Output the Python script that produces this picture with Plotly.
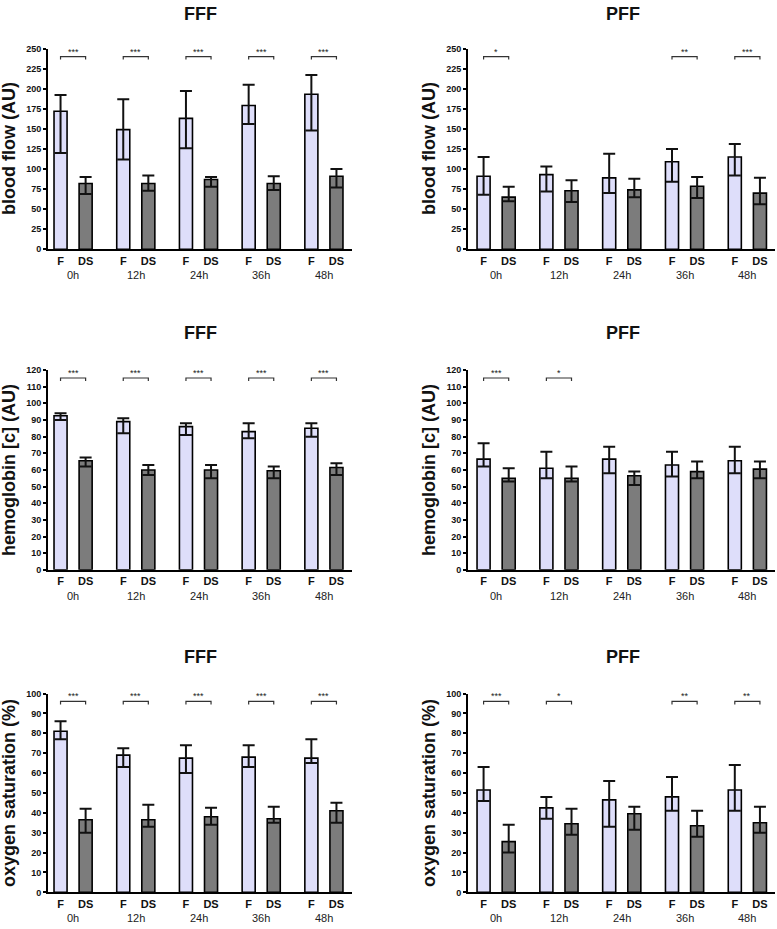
import plotly.graph_objects as go

W, H = 777, 929

times = ["0h", "12h", "24h", "36h", "48h"]
groups = ["F", "DS"]

# ---- blood flow ----
bf_fff_F = [172, 149, 163, 179, 193]
bf_fff_F_hi = [192, 187, 197, 205, 217]
bf_fff_F_lo = [120, 112, 126, 156, 148]
bf_fff_DS = [82, 82, 87, 82, 91]
bf_fff_DS_hi = [90, 92, 90, 91, 100]
bf_fff_DS_lo = [69, 73, 78, 74, 77]
bf_fff_sig = ["***", "***", "***", "***", "***"]

bf_pff_F = [91, 93, 89, 109, 115]
bf_pff_F_hi = [115, 103, 119, 125, 131]
bf_pff_F_lo = [68, 72, 70, 84, 92]
bf_pff_DS = [65, 73, 74, 78.5, 70]
bf_pff_DS_hi = [78, 86, 88, 90, 89]
bf_pff_DS_lo = [60, 59, 65, 64, 56]
bf_pff_sig = ["*", "", "", "**", "***"]

# ---- hemoglobin ----
hb_fff_F = [92.5, 89, 86, 83, 85]
hb_fff_F_hi = [94, 91, 88, 88, 88]
hb_fff_F_lo = [90, 82, 81, 79, 80]
hb_fff_DS = [65.5, 60, 60, 59.5, 61.5]
hb_fff_DS_hi = [67.5, 63, 63, 62, 64]
hb_fff_DS_lo = [62, 57, 55, 55, 57]
hb_fff_sig = ["***", "***", "***", "***", "***"]

hb_pff_F = [66.5, 61, 66.5, 63, 65.5]
hb_pff_F_hi = [76, 71, 74, 71, 74]
hb_pff_F_lo = [62, 55, 58, 56, 58]
hb_pff_DS = [55, 55, 56.5, 59, 60.5]
hb_pff_DS_hi = [61, 62, 59, 65, 65]
hb_pff_DS_lo = [53, 53, 51, 55, 55]
hb_pff_sig = ["***", "*", "", "", ""]

# ---- oxygen saturation ----
os_fff_F = [81, 69, 67.5, 68, 67.5]
os_fff_F_hi = [86, 72.5, 74, 74, 77]
os_fff_F_lo = [77, 63, 60, 63, 65]
os_fff_DS = [36.5, 36.5, 38, 37, 41]
os_fff_DS_hi = [42, 44, 42.5, 43, 45]
os_fff_DS_lo = [30, 33, 34, 35, 35]
os_fff_sig = ["***", "***", "***", "***", "***"]

os_pff_F = [51.5, 42.5, 46.5, 48, 51.5]
os_pff_F_hi = [63, 48, 56, 58, 64]
os_pff_F_lo = [46, 37, 33, 41, 41]
os_pff_DS = [25.5, 34.5, 39.5, 33.5, 35]
os_pff_DS_hi = [34, 42, 43, 41, 43]
os_pff_DS_lo = [20, 29, 31.5, 28, 30]
os_pff_sig = ["***", "*", "", "**", "**"]

titles = ["FFF", "PFF", "FFF", "PFF", "FFF", "PFF"]
ytitles = ["blood flow (AU)", "blood flow (AU)",
           "hemoglobin [c] (AU)", "hemoglobin [c] (AU)",
           "oxygen saturation (%)", "oxygen saturation (%)"]
ymax = [250, 250, 120, 120, 100, 100]
ydtick = [25, 25, 10, 10, 10, 10]

panels = [
    (bf_fff_F, bf_fff_F_hi, bf_fff_F_lo, bf_fff_DS, bf_fff_DS_hi, bf_fff_DS_lo, bf_fff_sig),
    (bf_pff_F, bf_pff_F_hi, bf_pff_F_lo, bf_pff_DS, bf_pff_DS_hi, bf_pff_DS_lo, bf_pff_sig),
    (hb_fff_F, hb_fff_F_hi, hb_fff_F_lo, hb_fff_DS, hb_fff_DS_hi, hb_fff_DS_lo, hb_fff_sig),
    (hb_pff_F, hb_pff_F_hi, hb_pff_F_lo, hb_pff_DS, hb_pff_DS_hi, hb_pff_DS_lo, hb_pff_sig),
    (os_fff_F, os_fff_F_hi, os_fff_F_lo, os_fff_DS, os_fff_DS_hi, os_fff_DS_lo, os_fff_sig),
    (os_pff_F, os_pff_F_hi, os_pff_F_lo, os_pff_DS, os_pff_DS_hi, os_pff_DS_lo, os_pff_sig),
]

# layout geometry (pixels)
col_x = [(48, 352), (468, 775)]
col_xrange = [(-0.5, 11.62), (-0.62, 11.6)]
row_y = [(44, 247), (369, 571), (696, 897)]
title_y = [9, 332, 659]
title_x = [200, 623]
ytitle_x = [9, 429]

F_COLOR = "#DEDEFA"
DS_COLOR = "#7C7C7C"
FONT = "Liberation Sans, Arial, sans-serif"

fig = go.Figure()
annotations = []
shapes = []
layout = {}

for p, (Fv, Fhi, Flo, Dv, Dhi, Dlo, sig) in enumerate(panels):
    r, c = divmod(p, 2)
    ax = "" if p == 0 else str(p + 1)
    xname, yname = "x" + ax, "y" + ax
    xF = [2.5 * i for i in range(len(times))]
    xD = [2.5 * i + 1 for i in range(len(times))]
    for xs, vals, hi, lo, col in [(xF, Fv, Fhi, Flo, F_COLOR), (xD, Dv, Dhi, Dlo, DS_COLOR)]:
        fig.add_trace(go.Bar(
            x=xs, y=vals, width=0.52, xaxis=xname, yaxis=yname,
            marker=dict(color=col, line=dict(color="black", width=1.6)),
            error_y=dict(type="data", symmetric=False,
                         array=[h - v for h, v in zip(hi, vals)],
                         arrayminus=[v - l for v, l in zip(vals, lo)],
                         color="#111", thickness=2, width=6),
            showlegend=False, hoverinfo="skip"))
    x0, x1 = col_x[c]
    y0, y1 = row_y[r]
    dom_x = [x0 / W, x1 / W]
    dom_y = [1 - y1 / H, 1 - y0 / H]
    layout["xaxis" + ax] = dict(
        domain=dom_x, anchor=yname, range=list(col_xrange[c]),
        tickvals=xF + xD, ticktext=["F"] * 5 + ["DS"] * 5,
        tickfont=dict(family=FONT, size=11, color="#111", weight="bold"),
        ticks="", showline=True, linecolor="black", linewidth=2,
        showgrid=False, zeroline=False, fixedrange=True)
    layout["yaxis" + ax] = dict(
        domain=dom_y, anchor=xname, range=[0, ymax[p]], dtick=ydtick[p],
        tickfont=dict(family=FONT, size=9, color="#111", weight="bold"),
        ticks="outside", ticklen=3, tickwidth=1.5, tickcolor="black",
        showline=True, linecolor="black", linewidth=2,
        showgrid=False, zeroline=False, fixedrange=True)
    # time labels
    for i, t in enumerate(times):
        annotations.append(dict(
            x=2.5 * i + 0.5, xref=xname, y=dom_y[0] - 26 / H, yref="paper",
            text=t, showarrow=False, yanchor="middle",
            font=dict(family=FONT, size=11, color="#222")))
    # significance brackets
    yb = 0.96 * ymax[p]
    tick = 0.015 * ymax[p]
    for i, s in enumerate(sig):
        if not s:
            continue
        a, b = xF[i], xD[i]
        shapes.append(dict(type="path", xref=xname, yref=yname,
                           path=f"M {a},{yb - tick} L {a},{yb} L {b},{yb} L {b},{yb - tick}",
                           line=dict(color="#333", width=1.2)))
        annotations.append(dict(
            x=(a + b) / 2, xref=xname, y=yb, yref=yname, text=s,
            showarrow=False, yanchor="bottom", yshift=-2,
            font=dict(family=FONT, size=9, color="#222")))
    # panel title
    annotations.append(dict(
        x=title_x[c] / W, xref="paper", y=1 - title_y[r] / H, yref="paper",
        text=titles[p], showarrow=False, yanchor="middle", xanchor="center",
        font=dict(family=FONT, size=18, color="#111", weight="bold")))
    # y axis title
    annotations.append(dict(
        x=ytitle_x[c] / W, xref="paper", y=(dom_y[0] + dom_y[1]) / 2, yref="paper",
        text=ytitles[p], showarrow=False, textangle=-90,
        xanchor="center", yanchor="middle",
        font=dict(family=FONT, size=18, color="#111", weight="bold")))

fig.update_layout(
    width=W, height=H, margin=dict(l=0, r=0, t=0, b=0),
    paper_bgcolor="white", plot_bgcolor="white",
    barmode="overlay", annotations=annotations, shapes=shapes,
    **layout)

fig.write_html("out.html", config={"displayModeBar": False})
